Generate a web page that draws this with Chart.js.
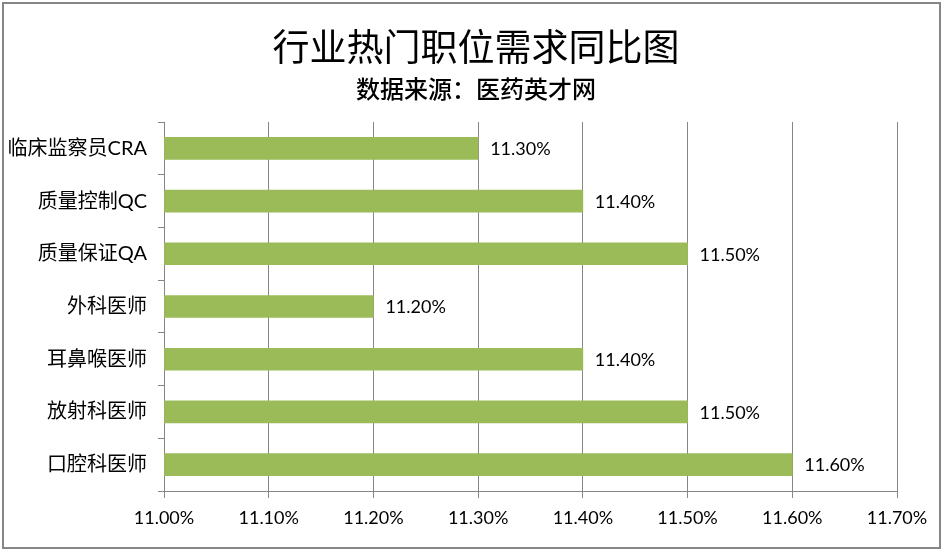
<!DOCTYPE html>
<html>
<head>
<meta charset="utf-8">
<script src="https://cdn.jsdelivr.net/npm/chart.js@4/dist/chart.umd.min.js"></script>
<style>
html,body{margin:0;padding:0;background:#fff;}
#wrap{width:943px;height:551px;position:relative;}
</style>
</head>
<body>
<div id="wrap"><canvas id="c" width="943" height="551"></canvas></div>
<script>
const titleText = '行业热门职位需求同比图';
const subtitleText = '数据来源：医药英才网';
const categories = ['临床监察员CRA','质量控制QC','质量保证QA','外科医师','耳鼻喉医师','放射科医师','口腔科医师'];
const values = [11.30, 11.40, 11.50, 11.20, 11.40, 11.50, 11.60];
const axisMin = 11.0;
const axisMax = 11.7;
const axisStep = 0.1;

const latinFont = "Lato, 'Noto Sans CJK SC', sans-serif";
const cjkFont = "'Noto Sans CJK SC', sans-serif";

const framePlugin = {
  id: 'frame',
  beforeDraw(chart) {
    const ctx = chart.ctx;
    ctx.save();
    ctx.fillStyle = '#fff';
    ctx.fillRect(0, 0, chart.width, chart.height);
    ctx.strokeStyle = '#868686';
    ctx.lineWidth = 2;
    ctx.strokeRect(3, 3, 937, 545);
    ctx.fillStyle = '#000';
    ctx.textAlign = 'center';
    ctx.textBaseline = 'middle';
    ctx.font = "37px " + cjkFont;
    ctx.fillText(titleText, 476, 47);
    ctx.font = "500 24px " + cjkFont;
    ctx.fillText(subtitleText, 476, 89);
    ctx.restore();
  }
};

const labelPlugin = {
  id: 'barLabels',
  afterDatasetsDraw(chart) {
    const ctx = chart.ctx;
    const meta = chart.getDatasetMeta(0);
    ctx.save();
    ctx.fillStyle = '#000';
    ctx.font = "18px " + latinFont;
    ctx.textAlign = 'left';
    ctx.textBaseline = 'middle';
    meta.data.forEach((bar, i) => {
      ctx.fillText(values[i].toFixed(2) + '%', bar.x + 12, bar.y + 1);
    });
    ctx.restore();
  }
};

new Chart(document.getElementById('c'), {
  type: 'bar',
  data: {
    labels: categories,
    datasets: [{
      data: values,
      base: axisMin,
      backgroundColor: '#9BBB59',
      borderWidth: 0,
      barThickness: 22
    }]
  },
  options: {
    indexAxis: 'y',
    responsive: false,
    animation: false,
    events: [],
    layout: { padding: { left: 0, right: 46, top: 122, bottom: 0 } },
    plugins: {
      legend: { display: false },
      title: { display: false },
      tooltip: { enabled: false }
    },
    scales: {
      x: {
        min: axisMin,
        max: axisMax,
        afterFit(scale) { scale.height = 60; },
        afterBuildTicks(scale) {
          const t = [];
          for (let i = 0; i <= Math.round((axisMax - axisMin) / axisStep); i++) t.push({ value: +(axisMin + i * axisStep).toFixed(2) });
          scale.ticks = t;
        },
        grid: { color: '#868686', lineWidth: 1, tickLength: 7, drawTicks: true },
        border: { color: '#868686', width: 1 },
        ticks: {
          color: '#000',
          font: { family: latinFont, size: 18 },
          padding: 9,
          callback: v => Number(v).toFixed(2) + '%'
        }
      },
      y: {
        afterFit(scale) { scale.width = 164; },
        grid: { display: true, drawOnChartArea: false, color: '#868686', tickLength: 6, offset: true },
        border: { color: '#868686', width: 1 },
        ticks: {
          color: '#000',
          font: { family: latinFont, size: 20 },
          padding: 11
        }
      }
    }
  },
  plugins: [framePlugin, labelPlugin]
});
</script>
</body>
</html>
